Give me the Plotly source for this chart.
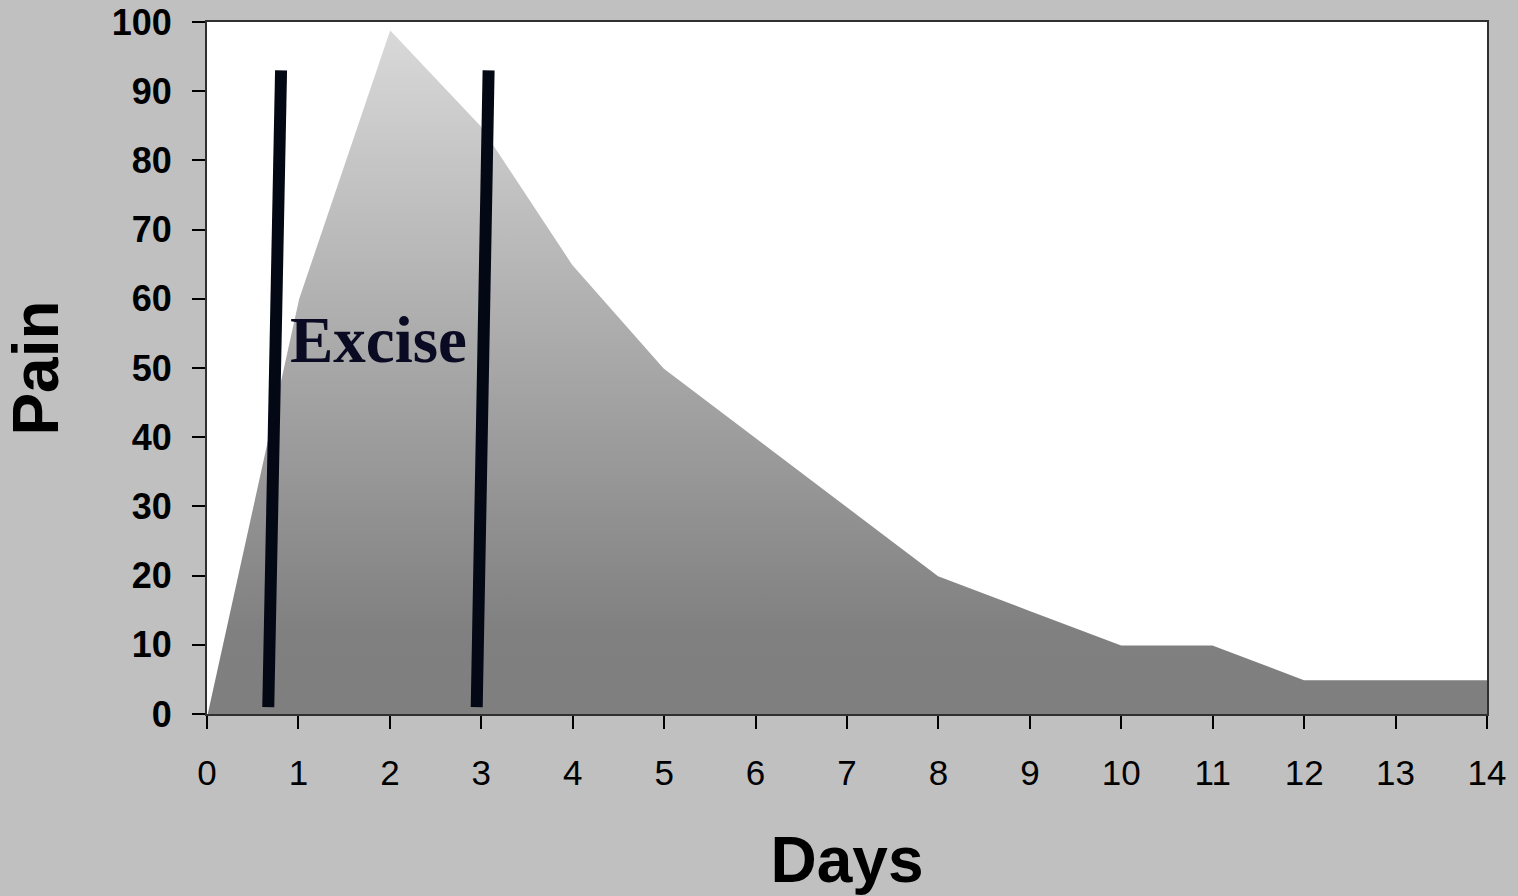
import plotly.graph_objects as go

days = list(range(15))
pain = [0, 60, 99, 85, 65, 50, 40, 30, 20, 15, 10, 10, 5, 5, 5]
x_ticks = list(range(15))
y_ticks = list(range(0, 101, 10))

bar1_x = [0.67, 0.81]
bar1_y = [1, 93]
bar2_x = [2.95, 3.08]
bar2_y = [1, 93]

label_text = "<b>Excise</b>"
label_x = 1.88
label_y = 54

fig = go.Figure()
fig.add_trace(go.Scatter(
    x=days, y=pain, mode="lines", fill="tozeroy",
    line=dict(color="white", width=1.5),
    fillgradient=dict(type="vertical",
                      colorscale=[[0, "#7f7f7f"], [0.12, "#808080"], [1, "#d9d9d9"]]),
    hoverinfo="skip", showlegend=False,
))
for bx, by in [(bar1_x, bar1_y), (bar2_x, bar2_y)]:
    fig.add_trace(go.Scatter(
        x=bx, y=by, mode="lines",
        line=dict(color="#030814", width=12),
        showlegend=False, hoverinfo="skip",
    ))

fig.add_annotation(
    x=label_x, y=label_y, text=label_text, showarrow=False,
    font=dict(family="Liberation Serif", size=65, color="#0a0a23"),
    xanchor="center", yanchor="middle",
)

fig.update_layout(
    width=1518, height=896,
    paper_bgcolor="#c0c0c0", plot_bgcolor="white",
    margin=dict(l=207, r=31, t=22, b=182, autoexpand=False),
    font=dict(family="Liberation Sans", color="black"),
)
fig.update_xaxes(
    range=[0, 14], tickvals=x_ticks, ticktext=[str(v) for v in x_ticks],
    showgrid=False, zeroline=False, automargin=False,
    showline=True, linecolor="#303030", linewidth=2, mirror=True,
    ticks="outside", ticklen=13, tickwidth=2, tickcolor="black",
    tickfont=dict(size=35, family="Liberation Sans", color="black"),
    ticklabelstandoff=14,
    title=dict(text="<b>Days</b>", font=dict(size=64, family="Liberation Sans", color="black"), standoff=47),
)
fig.update_yaxes(
    range=[0, 100], tickvals=y_ticks, ticktext=["<b>%d</b>" % v for v in y_ticks],
    showgrid=False, zeroline=False, automargin=False,
    showline=True, linecolor="#303030", linewidth=2, mirror=True,
    ticks="outside", ticklen=13, tickwidth=2, tickcolor="black",
    tickfont=dict(size=36, family="Liberation Sans", color="black"),
    ticklabelstandoff=13,
    title=dict(text="<b>Pain</b>", font=dict(size=64, family="Liberation Sans", color="black"), standoff=34),
)

fig.write_html(
    "out.html",
    config={"displayModeBar": False},
    post_script="document.body.style.margin='0';document.body.style.overflow='hidden';",
)
